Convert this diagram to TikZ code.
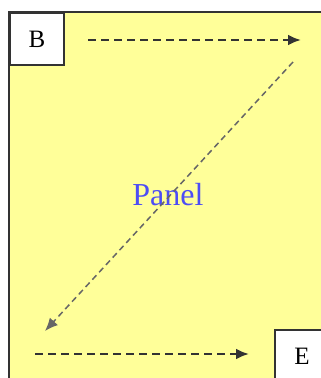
\documentclass[tikz,border=0pt]{standalone}
\usepackage{fontspec}
\setmainfont{Liberation Serif}
\usetikzlibrary{arrows.meta}
\definecolor{cPanel}{HTML}{FFFF99}
\definecolor{cEdge} {HTML}{333333}
\definecolor{cLabel}{HTML}{4D4DF5}

\begin{document}
\begin{tikzpicture}[x=1pt, y=-1pt,
    corner/.style={draw=cEdge, fill=white, line width=2pt, inner sep=0pt,
                   minimum width=54pt, minimum height=52pt,
                   font=\fontsize{25}{27}\selectfont},
    flow/.style={draw=cEdge, line width=2.5pt, dash pattern=on 8pt off 5pt,
                 -{Latex[length=13pt, width=11pt]}},
    jump/.style={draw=cEdge!75, line width=1.5pt, dash pattern=on 6pt off 4pt,
                 -{Latex[length=13pt, width=11pt]}}]
  \useasboundingbox (0,0) rectangle (321,378);
  % panel
  \fill[cPanel] (9,12) rectangle (335,395);
  \draw[cEdge, line width=2.5pt] (9,395) -- (9,12) -- (335,12);
  \node[text=cLabel, font=\fontsize{32}{34}\selectfont] (panel) at (168,195) {Panel};
  % begin and end boxes
  \node[corner, anchor=north west] (b) at (9,12) {B};
  \node[corner, anchor=north west] (e) at (274,329) {E};
  % arrow ends
  \coordinate (topin)  at (88,40);
  \coordinate (topout) at (301,40);
  \coordinate (diagin) at (293,62);
  \coordinate (diagout) at (45,331);
  \coordinate (botin)  at (35,354);
  \coordinate (botout) at (249,354);
  \draw[flow] (topin) -- (topout);
  \draw[jump] (diagin) -- (diagout);
  \draw[flow] (botin) -- (botout);
\end{tikzpicture}
\end{document}
